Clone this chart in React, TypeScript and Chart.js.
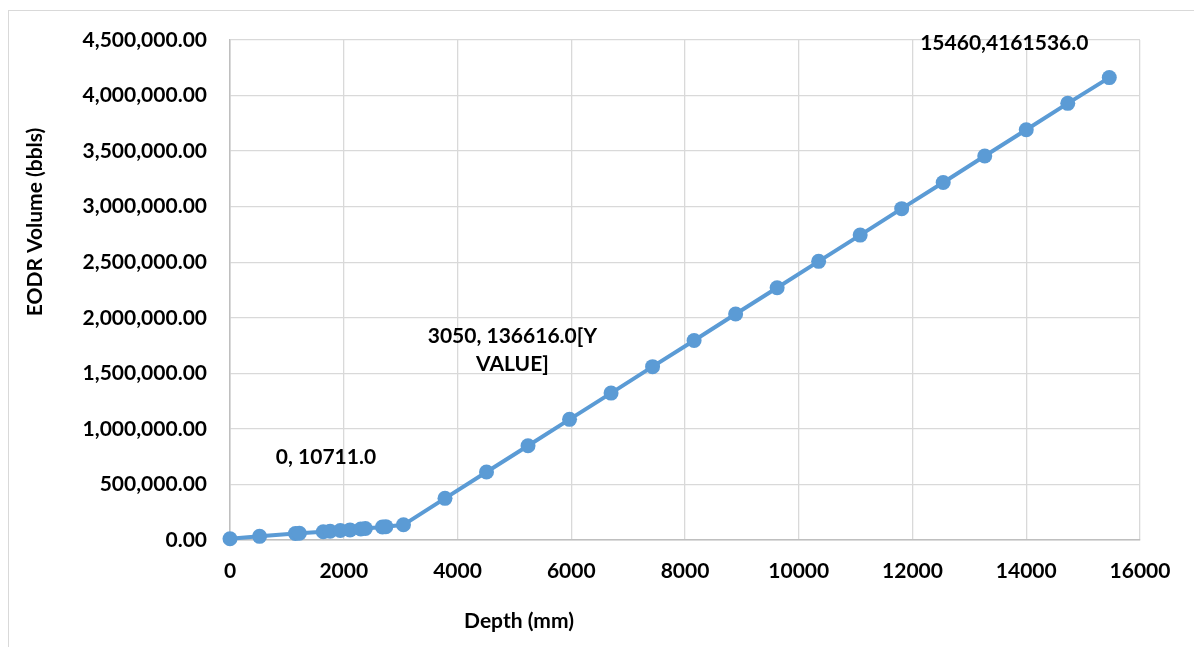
import React, { useEffect, useRef } from "react";
import { Chart, registerables } from "chart.js";

Chart.register(...registerables);

// Depth (mm) and EODR volume (bbls)
const depths = [0, 520, 1150, 1220, 1640, 1760, 1940, 2110, 2300, 2380, 2680, 2740, 3050, 3780, 4510, 5240, 5970, 6700, 7430, 8160, 8890, 9620, 10350, 11080, 11810, 12540, 13270, 14000, 14730, 15460];
const volumes = [10711, 33000, 58000, 61000, 74000, 79000, 85000, 91000, 99000, 103000, 117000, 120000, 136616, 375000, 612000, 848000, 1086000, 1322000, 1560000, 1796000, 2034000, 2270000, 2508000, 2744000, 2982000, 3218000, 3456000, 3692000, 3930000, 4161536];

// Data-label texts attached to specific points
const labelIndices = [0, 12, 29];
const labelTexts = [["0, 10711.0"], ["3050, 136616.0[Y", "VALUE]"], ["15460,4161536.0"]];

const xTitle = "Depth (mm)";
const yTitle = "EODR Volume (bbls)";

const FONT = "Lato";
const BLUE = "#5b9bd5";

// offsets of labels relative to their points (style, not data)
const labelOffsets = [
  { dx: 96, dy: -82 },
  { dx: 109, dy: -189 },
  { dx: -105, dy: -34 },
];

export default function App() {
  const ref = useRef<HTMLCanvasElement | null>(null);

  useEffect(() => {
    if (!ref.current) return;
    const dataLabelPlugin = {
      id: "dataLabels",
      afterDatasetsDraw(chart: any) {
        const ctx = chart.ctx;
        const meta = chart.getDatasetMeta(0);
        ctx.save();
        ctx.fillStyle = "#000";
        ctx.font = `bold 21px ${FONT}`;
        ctx.textAlign = "center";
        ctx.textBaseline = "middle";
        labelIndices.forEach((idx, i) => {
          const pt = meta.data[idx];
          if (!pt) return;
          const off = labelOffsets[i];
          labelTexts[i].forEach((line, j) => {
            ctx.fillText(line, pt.x + off.dx, pt.y + off.dy + j * 28);
          });
        });
        ctx.restore();
      },
      afterDraw(chart: any) {
        const ctx = chart.ctx;
        const area = chart.chartArea;
        ctx.save();
        ctx.fillStyle = "#000";
        ctx.font = `bold 21px ${FONT}`;
        ctx.textAlign = "center";
        ctx.textBaseline = "middle";
        ctx.fillText(xTitle, (area.left + area.right) / 2 - 166, 621);
        ctx.translate(35, 222);
        ctx.rotate(-Math.PI / 2);
        ctx.fillText(yTitle, 0, 0);
        ctx.restore();
      },
    };

    const chart = new Chart(ref.current, {
      type: "line",
      data: {
        datasets: [
          {
            data: depths.map((d, i) => ({ x: d, y: volumes[i] })),
            borderColor: BLUE,
            backgroundColor: BLUE,
            borderWidth: 4,
            pointRadius: 7.5,
            pointHoverRadius: 7.5,
            pointBackgroundColor: BLUE,
            pointBorderColor: BLUE,
            pointBorderWidth: 0,
            tension: 0,
            clip: false as any,
          },
        ],
      },
      options: {
        responsive: false,
        animation: false,
        devicePixelRatio: 1,
        layout: { padding: { top: 40, right: 54, left: 0, bottom: 0 } },
        plugins: {
          legend: { display: false },
          tooltip: { enabled: false },
        },
        scales: {
          x: {
            type: "linear",
            min: 0,
            max: 16000,
            ticks: {
              stepSize: 2000,
              color: "#000",
              font: { family: FONT, size: 21, weight: "bold" },
              padding: 19,
              maxRotation: 0,
              callback: (v: any) => String(v),
            },
            grid: { color: "#d9d9d9", lineWidth: 1.3, drawTicks: false },
            border: { color: "#bfbfbf", width: 1.5 },
            afterFit: (s: any) => {
              s.height = 107;
            },
          },
          y: {
            type: "linear",
            min: 0,
            max: 4500000,
            ticks: {
              stepSize: 500000,
              color: "#000",
              font: { family: FONT, size: 21, weight: "bold" },
              padding: 23,
              callback: (v: any) =>
                Number(v).toLocaleString("en-US", { minimumFractionDigits: 2, maximumFractionDigits: 2 }),
            },
            grid: { color: "#d9d9d9", lineWidth: 1.3, drawTicks: false },
            border: { color: "#bfbfbf", width: 1.5 },
            afterFit: (s: any) => {
              s.width = 230;
            },
          },
        },
      },
      plugins: [dataLabelPlugin],
    });
    return () => chart.destroy();
  }, []);

  return (
    <div style={{ position: "fixed", left: 0, top: 0, width: 1194, height: 647, background: "#fff", overflow: "hidden" }}>
      <div
        style={{
          position: "absolute",
          left: 8,
          top: 10,
          width: 1400,
          height: 800,
          border: "1px solid #d9d9d9",
          boxSizing: "border-box",
        }}
      />
      <canvas ref={ref} width={1194} height={647} style={{ position: "absolute", left: 0, top: 0, display: "block" }} />
    </div>
  );
}
